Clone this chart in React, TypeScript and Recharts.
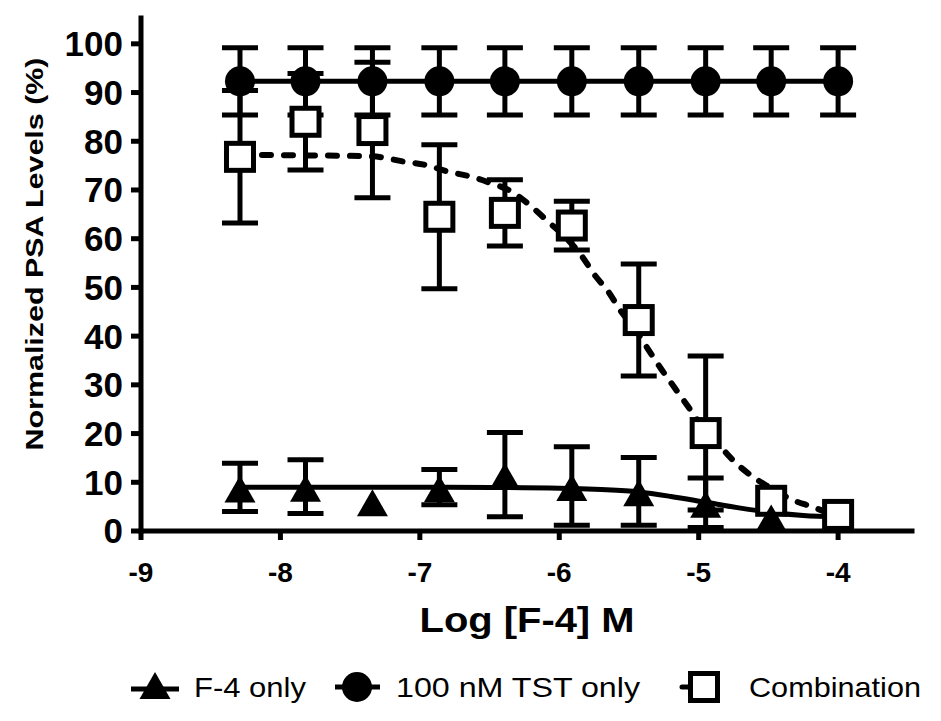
import {
  ComposedChart,
  Line,
  Scatter,
  XAxis,
  YAxis,
  ErrorBar,
  Legend,
} from "recharts";

// log10 of F-4 concentration (M), 3-fold dilution series
const logConc = [-8.29, -7.82, -7.34, -6.86, -6.39, -5.91, -5.43, -4.95, -4.48, -4.0];

// F-4 only
const f4Mean = [8.95, 9.1, 6.1, 9.0, 11.55, 9.25, 8.15, 5.8, 3.0];
const f4Sem = [4.95, 5.5, 0, 3.6, 8.65, 8.05, 6.95, 5.1, 0];

// 100 nM TST only
const tstMean = [92.3, 92.3, 92.3, 92.3, 92.3, 92.3, 92.3, 92.3, 92.3, 92.3];
const tstSem = [6.9, 6.9, 6.9, 6.9, 6.9, 6.9, 6.9, 6.9, 6.9, 6.9];

// Combination
const comboMean = [76.8, 84.0, 82.3, 64.5, 65.3, 62.7, 43.3, 20.1, 6.2, 3.3];
const comboSem = [13.6, 9.9, 13.9, 14.8, 6.8, 5.0, 11.5, 15.8, 0, 0];

// fitted curves
const f4FitX = [-8.29, -7.5, -7.0, -6.5, -6.0, -5.7, -5.43, -5.2, -4.95, -4.7, -4.48, -4.25, -4.0];
const f4FitY = [9.0, 9.0, 9.0, 8.95, 8.8, 8.5, 8.0, 7.1, 5.9, 4.7, 3.8, 3.2, 2.9];

const comboFitX = [
  -8.29, -7.8, -7.34, -7.11, -6.97, -6.8, -6.63, -6.49, -6.35, -6.2, -6.08, -5.96, -5.84,
  -5.745, -5.65, -5.555, -5.46, -5.36, -5.27, -5.17, -5.08, -4.97, -4.86, -4.77, -4.62,
  -4.5, -4.33, -4.19, -4.0,
];
const comboFitY = [
  77.2, 77.1, 76.9, 75.8, 75.2, 73.8, 72.7, 71.4, 69.8, 66.6, 63.5, 60.4, 56.5,
  52.5, 49.2, 45.0, 41.6, 37.2, 33.3, 29.3, 25.7, 21.3, 17.9, 15.0, 11.3,
  9.1, 6.4, 5.0, 2.9,
];

const xTicks = [-9, -8, -7, -6, -5, -4];
const yTicks = [0, 10, 20, 30, 40, 50, 60, 70, 80, 90, 100];

const FONT = '"Liberation Sans", Arial, sans-serif';

const f4Data = f4Mean.map((y, i) => ({ x: logConc[i], y, err: f4Sem[i] }));
const tstData = tstMean.map((y, i) => ({ x: logConc[i], y, err: tstSem[i] }));
const comboData = comboMean.map((y, i) => ({ x: logConc[i], y, err: comboSem[i] }));
const f4Fit = f4FitX.map((x, i) => ({ x, y: f4FitY[i] }));
const comboFit = comboFitX.map((x, i) => ({ x, y: comboFitY[i] }));

const triangle = (cx: number, cy: number) => (
  <polygon
    points={`${cx},${cy - 12} ${cx - 15.5},${cy + 15} ${cx + 15.5},${cy + 15}`}
    fill="#000"
  />
);
const circle = (cx: number, cy: number) => <circle cx={cx} cy={cy} r={15} fill="#000" />;
const square = (cx: number, cy: number) => (
  <rect x={cx - 13.5} y={cy - 13.5} width={27} height={27} fill="#fff" stroke="#000" strokeWidth={5} />
);

const TriangleShape = (p: any) => triangle(p.cx, p.cy);
const CircleShape = (p: any) => circle(p.cx, p.cy);
const SquareShape = (p: any) => square(p.cx, p.cy);

const legendText = { fontFamily: FONT, fontSize: 28, fill: "#000" };

const renderLegend = () => (
  <svg width={941} height={50} style={{ display: "block" }}>
    <line x1={131} y1={18} x2={179} y2={18} stroke="#000" strokeWidth={5} />
    {triangle(155, 13)}
    <text x={194} y={26} {...legendText} textLength={112} lengthAdjust="spacingAndGlyphs">
      F-4 only
    </text>
    <line x1={335} y1={16} x2={380} y2={16} stroke="#000" strokeWidth={5} />
    {circle(357, 16)}
    <text x={396} y={26} {...legendText} textLength={244} lengthAdjust="spacingAndGlyphs">
      100 nM TST only
    </text>
    <line x1={682} y1={16} x2={726} y2={16} stroke="#000" strokeWidth={5} strokeDasharray="9 13" strokeLinecap="round" />
    {square(704, 16)}
    <text x={749} y={26} {...legendText} textLength={172} lengthAdjust="spacingAndGlyphs">
      Combination
    </text>
  </svg>
);

const XTitle = () => (
  <text
    x={527}
    y={632}
    textAnchor="middle"
    fontFamily={FONT}
    fontSize={35}
    fontWeight={700}
    fill="#000"
    textLength={215}
    lengthAdjust="spacingAndGlyphs"
  >
    Log [F-4] M
  </text>
);

const YTitle = () => (
  <text
    x={43}
    y={254}
    transform="rotate(-90, 43, 254)"
    textAnchor="middle"
    fontFamily={FONT}
    fontSize={23}
    fontWeight={700}
    fill="#000"
    textLength={393}
    lengthAdjust="spacingAndGlyphs"
  >
    Normalized PSA Levels (%)
  </text>
);

const axisStroke = { stroke: "#000", strokeWidth: 5, strokeLinecap: "square" as const };
const tickStroke = { stroke: "#000", strokeWidth: 5 };

const App = () => {
  return (
    <div style={{ position: "absolute", left: 0, top: 0, width: 941, height: 721, background: "#fff" }}>
      <ComposedChart
        width={941}
        height={721}
        margin={{ top: 18, right: 29, bottom: 0, left: 0 }}
        style={{ fontFamily: FONT }}
      >
        <XAxis
          type="number"
          dataKey="x"
          domain={[-9, -3.47]}
          ticks={xTicks}
          allowDataOverflow
          height={140}
          axisLine={axisStroke}
          tickLine={tickStroke}
          tickSize={9}
          tickMargin={22}
          tick={{ fill: "#000", fontSize: 28, fontWeight: 700, fontFamily: FONT }}
          label={<XTitle />}
        />
        <YAxis
          type="number"
          dataKey="y"
          domain={[0, 105.3]}
          ticks={yTicks}
          allowDataOverflow
          width={141}
          axisLine={axisStroke}
          tickLine={tickStroke}
          tickSize={10}
          tickMargin={8}
          tick={{ fill: "#000", fontSize: 35, fontWeight: 700, fontFamily: FONT }}
          label={<YTitle />}
        />
        <Legend
          verticalAlign="bottom"
          height={50}
          content={renderLegend}
          wrapperStyle={{ left: 0, top: 671, width: 941, height: 50 }}
        />
        <Scatter data={tstData} dataKey="y" shape={CircleShape} isAnimationActive={false}>
          <ErrorBar dataKey="err" direction="y" width={18} stroke="#000" strokeWidth={5} isAnimationActive={false} />
        </Scatter>
        <Scatter data={comboData} dataKey="y" shape={SquareShape} isAnimationActive={false}>
          <ErrorBar dataKey="err" direction="y" width={18} stroke="#000" strokeWidth={5} isAnimationActive={false} />
        </Scatter>
        <Scatter data={f4Data} dataKey="y" shape={TriangleShape} isAnimationActive={false}>
          <ErrorBar dataKey="err" direction="y" width={18} stroke="#000" strokeWidth={5} isAnimationActive={false} />
        </Scatter>
        <Line
          data={tstData}
          dataKey="y"
          type="linear"
          stroke="#000"
          strokeWidth={5}
          dot={false}
          activeDot={false}
          isAnimationActive={false}
        />
        <Line
          data={f4Fit}
          dataKey="y"
          type="monotone"
          stroke="#000"
          strokeWidth={5}
          dot={false}
          activeDot={false}
          isAnimationActive={false}
        />
        <Line
          data={comboFit}
          dataKey="y"
          type="monotone"
          stroke="#000"
          strokeWidth={6}
          strokeDasharray="9 13"
          strokeLinecap="round"
          dot={false}
          activeDot={false}
          isAnimationActive={false}
        />
      </ComposedChart>
    </div>
  );
};

export default App;
